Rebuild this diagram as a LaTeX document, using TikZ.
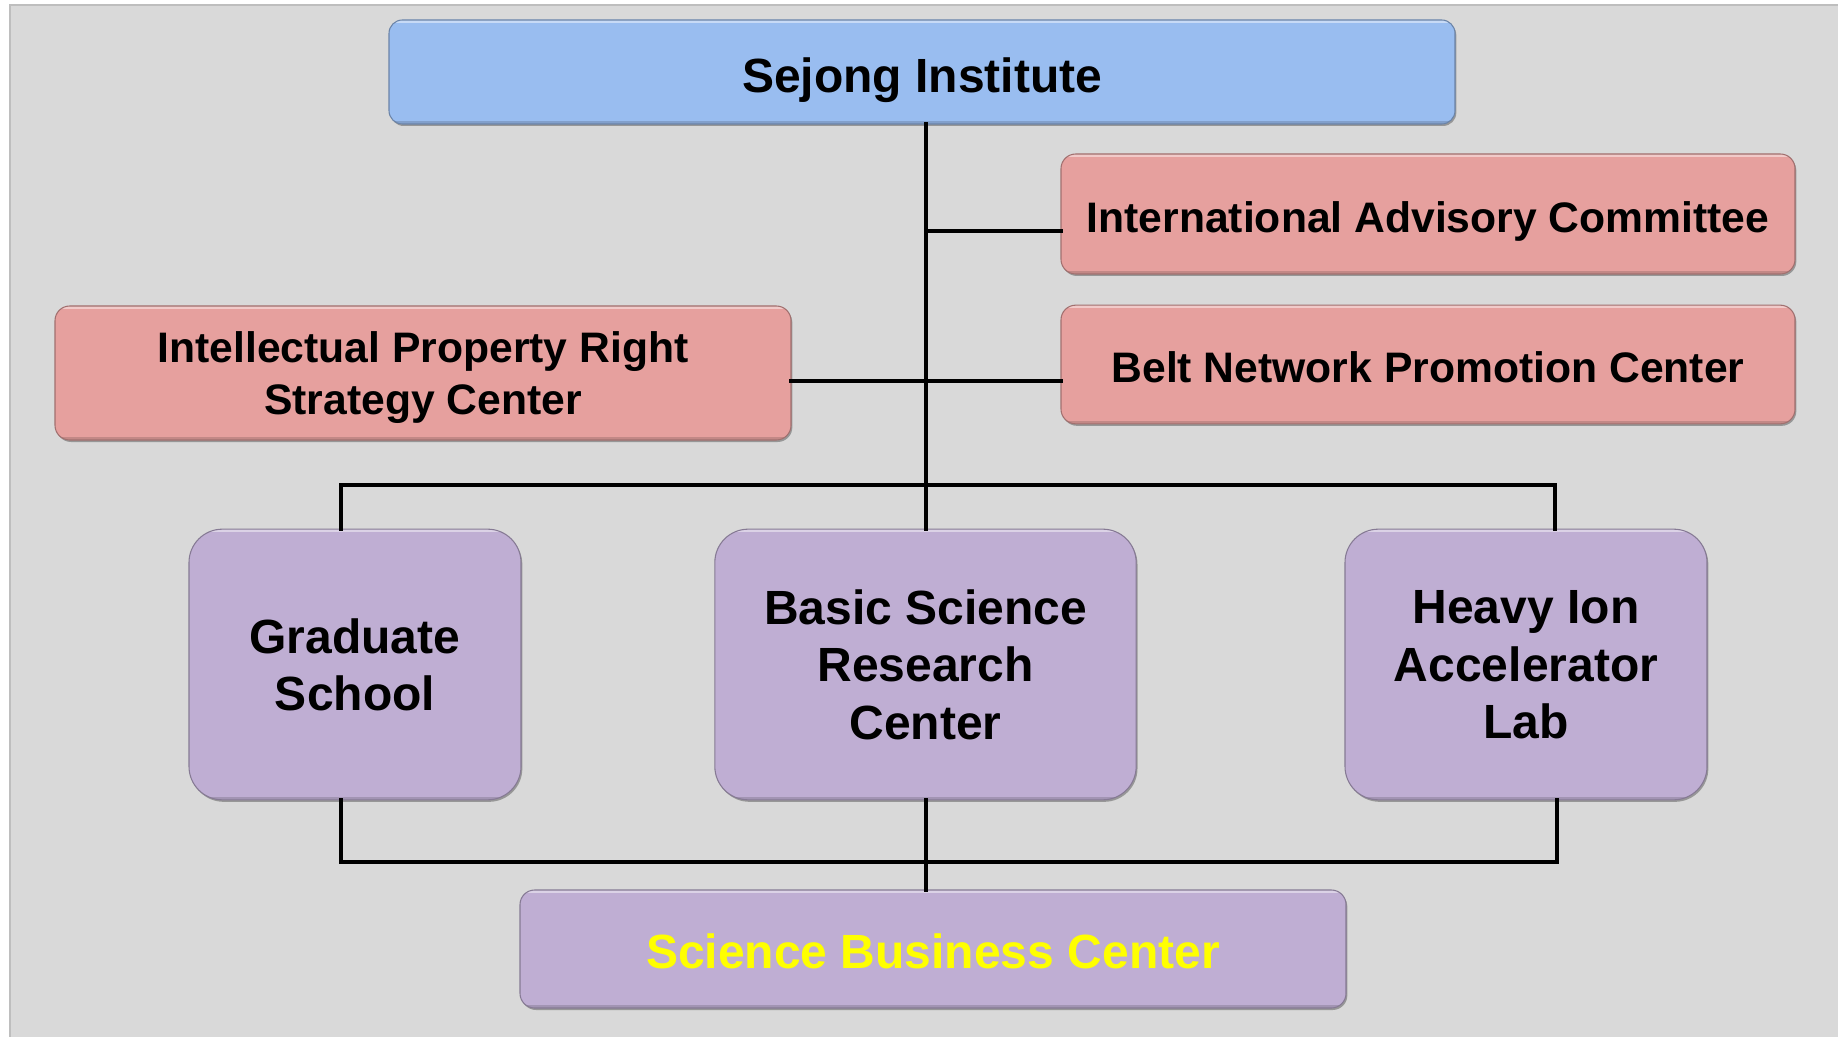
\documentclass[tikz,border=0pt]{standalone}
\usepackage{fontspec}
\setmainfont{Liberation Sans}
\usepackage{tikz}
\usetikzlibrary{shadows}

\definecolor{bgGray}{RGB}{217,217,217}
\definecolor{frameGray}{RGB}{190,190,190}
\definecolor{headBlue}{RGB}{153,189,240}
\definecolor{unitPink}{RGB}{230,160,158}
\definecolor{labPurple}{RGB}{191,174,211}
\definecolor{textYellow}{RGB}{255,255,0}

\begin{document}
\begin{tikzpicture}[x=0.75pt,y=0.75pt,yscale=-1,xscale=1,
  orgbox/.style={rectangle, inner sep=0pt, align=center, line width=0.8pt,
    drop shadow={shadow xshift=1pt, shadow yshift=-1.5pt, opacity=0.3, fill=black},
    path picture={
      \draw[white, opacity=0.45, line width=4pt] (path picture bounding box.north west) -- (path picture bounding box.north east);
      \draw[black, opacity=0.15, line width=5pt] (path picture bounding box.south west) -- (path picture bounding box.south east);
    }},
  lift/.style={execute at begin node={\rule{0pt}{#1}}},
  headbox/.style={orgbox, fill=headBlue, draw=headBlue!70!black, rounded corners=10pt,
    font=\bfseries\fontsize{36}{43}\selectfont},
  unitbox/.style={orgbox, fill=unitPink, draw=unitPink!70!black, rounded corners=11pt,
    font=\bfseries\fontsize{32}{38.7}\selectfont},
  labbox/.style={orgbox, fill=labPurple, draw=labPurple!70!black, rounded corners=25pt,
    minimum height=203pt, font=\bfseries\fontsize{36}{43}\selectfont},
  link/.style={line width=3.2pt, line cap=rect}
]
\useasboundingbox (0,0) rectangle (1838,1037);

%Background
\fill[bgGray] (10,5) rectangle (1838,1037);
\draw[frameGray, line width=1.5pt] (10,1037) -- (10,5) -- (1838,5);

%Junction points
\coordinate (jIac) at (926,231);
\coordinate (jMid) at (926,381);
\coordinate (busL) at (341,485);
\coordinate (busR) at (1555,485);
\coordinate (lowL) at (341,862);
\coordinate (lowR) at (1557,862);

%Shape: Rounded Rect
\node[headbox, lift=39pt, minimum width=799.5pt, minimum height=78pt] (sejong) at (922,72) {Sejong Institute};
\node[unitbox, lift=33.7pt, minimum width=550.5pt, minimum height=90pt] (iac) at (1428,214) {International Advisory Committee};
\node[unitbox, lift=27pt, minimum width=550.5pt, minimum height=89pt] (belt) at (1428,364.5) {Belt Network Promotion Center};
\node[unitbox, text depth=-3pt, minimum width=552pt, minimum height=100.5pt] (ipr) at (423,373) {Intellectual Property Right\\Strategy Center};
\node[labbox, text depth=-7pt, minimum width=249pt] (grad) at (355,664.5) {Graduate\\School};
\node[labbox, text depth=-8pt, minimum width=316pt] (basic) at (925.5,664.5) {Basic Science\\Research\\Center};
\node[labbox, text depth=-8pt, minimum width=271.5pt] (heavy) at (1526,664.5) {Heavy Ion\\Accelerator\\Lab};
\node[orgbox, lift=30pt, fill=labPurple, draw=labPurple!70!black, rounded corners=11pt,
  minimum width=619.5pt, minimum height=88.5pt, text=textYellow,
  font=\bfseries\fontsize{36}{43}\selectfont] (sbc) at (933,949) {Science Business Center};

%Straight Lines
\draw[link] (sejong.south -| jIac) -- (basic.north -| jIac);
\draw[link] (jIac) -- (jIac -| iac.west);
\draw[link] (jMid -| ipr.east) -- (jMid -| belt.west);
\draw[link] (grad.north -| busL) -- (busL) -- (busR) -- (heavy.north -| busR);
\draw[link] (grad.south -| lowL) -- (lowL) -- (lowR) -- (heavy.south -| lowR);
\draw[link] (basic.south -| jIac) -- (sbc.north -| jIac);

\end{tikzpicture}
\end{document}
